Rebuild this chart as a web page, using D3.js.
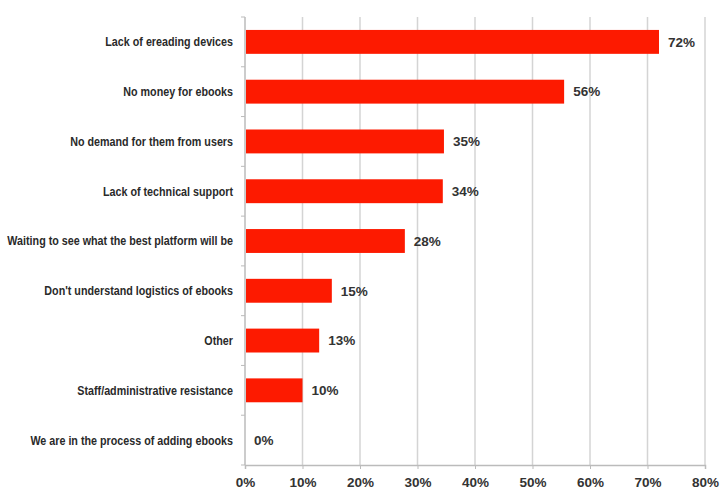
<!DOCTYPE html>
<html>
<head>
<meta charset="utf-8">
<script src="https://d3js.org/d3.v7.min.js"></script>
<style>
  body { margin: 0; background: #fff; }
  .cat { font-family: "Liberation Sans", Arial, sans-serif; font-size: 12.5px; font-weight: bold; fill: #2a2a2a; }
  .val { font-family: "Liberation Sans", Arial, sans-serif; font-size: 13.5px; font-weight: bold; fill: #333; }
  .tick text { font-family: "Liberation Sans", Arial, sans-serif; font-size: 13.5px; font-weight: bold; fill: #333; }
</style>
</head>
<body>
<div id="chart"></div>
<script>
  var categories = [
    "Lack of ereading devices",
    "No money for ebooks",
    "No demand for them from users",
    "Lack of technical support",
    "Waiting to see what the best platform will be",
    "Don't understand logistics of ebooks",
    "Other",
    "Staff/administrative resistance",
    "We are in the process of adding ebooks"
  ];
  // bar lengths; labels show them rounded
  var values = [72, 55.5, 34.6, 34.4, 27.8, 15.1, 12.9, 10, 0];
  var xTicks = [0, 10, 20, 30, 40, 50, 60, 70, 80];

  var width = 720, height = 495;
  var margin = {top: 17, right: 15, bottom: 30, left: 245};

  var svg = d3.select("#chart").append("svg")
      .attr("width", width)
      .attr("height", height);

  var x = d3.scaleLinear().domain([0, 80]).range([margin.left, width - margin.right]);
  var y = d3.scaleBand().domain(categories).range([margin.top, height - margin.bottom]).paddingInner(0.52).paddingOuter(0.26);

  // gridlines
  svg.append("g").selectAll("line")
      .data(xTicks.slice(1))
    .enter().append("line")
      .attr("x1", function(d) { return x(d); })
      .attr("x2", function(d) { return x(d); })
      .attr("y1", margin.top)
      .attr("y2", height - margin.bottom)
      .attr("stroke", "#d4d4d4")
      .attr("stroke-width", 1.5);

  // left axis line and category ticks
  svg.append("line")
      .attr("x1", x(0)).attr("x2", x(0))
      .attr("y1", margin.top).attr("y2", height - margin.bottom)
      .attr("stroke", "#bbb").attr("stroke-width", 1.5);

  var rowH = (height - margin.top - margin.bottom) / categories.length;
  svg.append("g").selectAll("line")
      .data(d3.range(categories.length + 1))
    .enter().append("line")
      .attr("x1", x(0) - 4).attr("x2", x(0))
      .attr("y1", function(i) { return margin.top + i * rowH; })
      .attr("y2", function(i) { return margin.top + i * rowH; })
      .attr("stroke", "#bbb");

  // bottom axis
  var xAxis = d3.axisBottom(x)
      .tickValues(xTicks)
      .tickFormat(function(d) { return d + "%"; })
      .tickSize(4)
      .tickPadding(8);

  var gx = svg.append("g")
      .attr("transform", "translate(0," + (height - margin.bottom) + ")")
      .call(xAxis);
  gx.select(".domain").attr("stroke", "#bbb").attr("stroke-width", 1.5);
  gx.selectAll(".tick line").attr("stroke", "#bbb");

  // bars
  svg.append("g").selectAll("rect")
      .data(values)
    .enter().append("rect")
      .attr("x", x(0) + 1)
      .attr("y", function(d, i) { return y(categories[i]); })
      .attr("width", function(d) { return Math.max(0, x(d) - x(0) - 1); })
      .attr("height", y.bandwidth())
      .attr("fill", "#fd1a00");

  // value labels
  svg.append("g").selectAll("text")
      .data(values)
    .enter().append("text")
      .attr("class", "val")
      .attr("x", function(d) { return x(d) + 9; })
      .attr("y", function(d, i) { return y(categories[i]) + y.bandwidth() / 2; })
      .attr("dy", "0.35em")
      .text(function(d) { return Math.round(d) + "%"; });

  // category labels (narrow look: squeeze horizontally)
  svg.append("g").selectAll("text")
      .data(categories)
    .enter().append("text")
      .attr("class", "cat")
      .attr("transform", function(d) {
        return "translate(" + (x(0) - 12) + "," + (y(d) + y.bandwidth() / 2) + ") scale(0.86,1)";
      })
      .attr("dy", "0.35em")
      .attr("text-anchor", "end")
      .text(function(d) { return d; });
</script>
</body>
</html>
